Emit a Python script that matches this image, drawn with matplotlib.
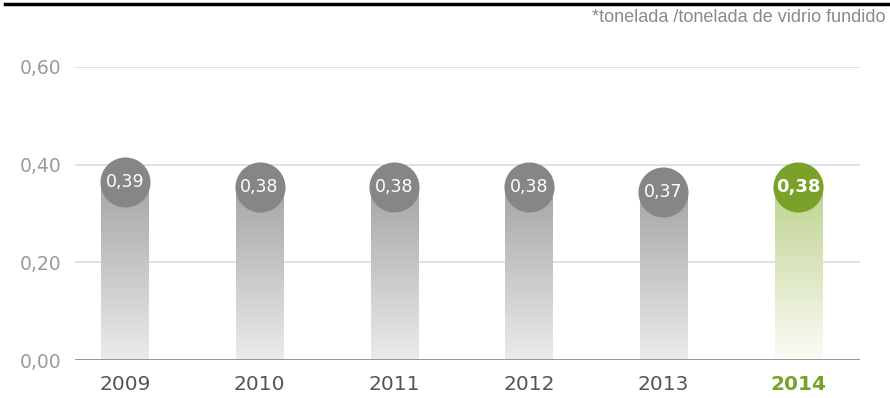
import numpy as np
import matplotlib
matplotlib.use("Agg")
import matplotlib.pyplot as plt
from matplotlib.colors import LinearSegmentedColormap

# datos
anios = ["2009", "2010", "2011", "2012", "2013", "2014"]
valores = [0.39, 0.38, 0.38, 0.38, 0.37, 0.38]
etiquetas = ["0,39", "0,38", "0,38", "0,38", "0,37", "0,38"]
yticks = [0.0, 0.2, 0.4, 0.6]
ytick_labels = ["0,00", "0,20", "0,40", "0,60"]
nota = "*tonelada /tonelada de vidrio fundido"

verde = "#7aa229"
gris_circ = "#858687"

fig = plt.figure(figsize=(8.9, 3.98), dpi=100)
ax = fig.add_axes([75 / 890, (398 - 360) / 398, 785 / 890, 293 / 398])

cmap_gris = LinearSegmentedColormap.from_list("g", ["#ebebeb", "#a5a6a8"])
cmap_verde = LinearSegmentedColormap.from_list("v", ["#fbfcf6", "#bfd38f"])
grad = np.linspace(0, 1, 256).reshape(-1, 1)

ancho = 0.35
x = np.arange(len(anios))

# grid
for t in yticks[1:]:
    ax.axhline(t, color="#dcdcdc", lw=1.2, zorder=0)
ax.axhline(0, color="#8c8c8c", lw=2, zorder=3)

for i, v in enumerate(valores):
    cm = cmap_verde if i == len(anios) - 1 else cmap_gris
    ax.imshow(grad, cmap=cm, origin="lower", aspect="auto",
              extent=[x[i] - ancho / 2, x[i] + ancho / 2, 0, v - 0.028], zorder=1)
    col = verde if i == len(anios) - 1 else gris_circ
    ax.scatter(x[i], v - 0.026, s=1300, color=col, zorder=4, linewidths=0)
    ax.text(x[i], v - 0.026, etiquetas[i], color="white", ha="center", va="center",
            fontsize=12.5 if i < len(anios) - 1 else 13, zorder=5,
            fontweight="bold" if i == len(anios) - 1 else "normal")

ax.set_xlim(-0.371, 5.46)
ax.set_ylim(0, 0.6)
ax.set_yticks(yticks)
ax.set_yticklabels(ytick_labels, fontsize=13.5, color="#9a9a9a")
ax.set_xticks(x)
ax.set_xticklabels(anios, fontsize=14.5, color="#555555")
lbl = ax.get_xticklabels()[-1]
lbl.set_color(verde)
lbl.set_fontweight("bold")
ax.tick_params(length=0)
ax.tick_params(axis="x", pad=11)
ax.tick_params(axis="y", pad=10)
for s in ax.spines.values():
    s.set_visible(False)

# linea superior y nota
fig.add_artist(plt.Line2D([5 / 890, 1], [1 - 4 / 398, 1 - 4 / 398], color="black", lw=2.5))
fig.text(886 / 890, 1 - 17 / 398, nota, ha="right", va="center", fontsize=13,
         color="#8a8a8a", family=["Liberation Sans", "DejaVu Sans"])

fig.savefig("out.png", dpi=100)
